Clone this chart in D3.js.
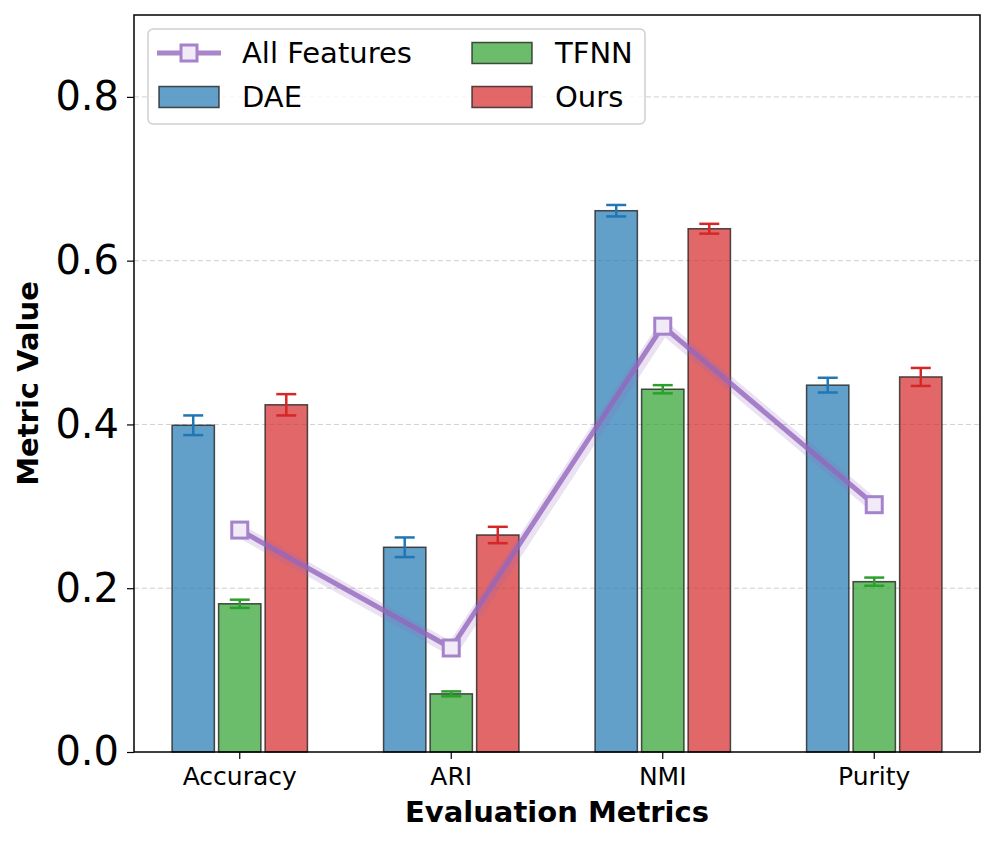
<!DOCTYPE html>
<html>
<head>
  <meta charset="utf-8">
  <title>Evaluation Metrics</title>
  <style type="text/css">
    body { margin: 0; background: #fff; }
    svg text { font-family: "DejaVu Sans", sans-serif; }
  </style>
</head>
<body>
  <svg width="996" height="843"></svg>
  <script src="https://d3js.org/d3.v7.min.js"></script>
  <script>
  // data
  let metrics = ["Accuracy", "ARI", "NMI", "Purity"];
  let methods = ["DAE", "TFNN", "Ours"];
  let daeValues  = [0.399, 0.250, 0.661, 0.448];
  let daeErrors  = [0.012, 0.012, 0.007, 0.009];
  let tfnnValues = [0.181, 0.071, 0.443, 0.208];
  let tfnnErrors = [0.005, 0.003, 0.005, 0.005];
  let oursValues = [0.424, 0.265, 0.639, 0.458];
  let oursErrors = [0.013, 0.010, 0.006, 0.011];
  let allFeatures = [0.271, 0.127, 0.520, 0.302];
  let yTicks = [0.0, 0.2, 0.4, 0.6, 0.8];

  let series = [
    { name: methods[0], values: daeValues,  errors: daeErrors,  color: "#1f77b4" },
    { name: methods[1], values: tfnnValues, errors: tfnnErrors, color: "#2ca02c" },
    { name: methods[2], values: oursValues, errors: oursErrors, color: "#d62728" }
  ];

  let svg = d3.select("svg");
  let plotL = 134, plotR = 980, plotT = 15, plotB = 752;

  let x = d3.scaleBand().domain(metrics).range([plotL, plotR]).padding(0);
  let bw = x.bandwidth();
  let xSub = d3.scaleLinear().domain([-1, 1]).range([-0.22 * bw, 0.22 * bw]);
  let barW = 0.2 * bw;
  let y = d3.scaleLinear().domain([0, 0.9]).range([plotB, plotT]);

  // grid
  svg.append("g")
    .selectAll("line")
    .data(yTicks.slice(1))
    .enter()
    .append("line")
    .attr("x1", plotL).attr("x2", plotR)
    .attr("y1", d => y(d)).attr("y2", d => y(d))
    .attr("stroke", "#b0b0b0")
    .attr("stroke-opacity", 0.6)
    .attr("stroke-width", 1)
    .attr("stroke-dasharray", "5,3");

  // bars
  series.forEach((s, i) => {
    let g = svg.append("g");
    g.selectAll("rect")
      .data(metrics)
      .enter()
      .append("rect")
      .attr("x", (m) => x(m) + bw / 2 + xSub(i - 1) - barW / 2)
      .attr("y", (m, j) => y(s.values[j]))
      .attr("width", barW)
      .attr("height", (m, j) => y(0) - y(s.values[j]))
      .attr("fill", s.color)
      .attr("fill-opacity", 0.7)
      .attr("stroke", "#222")
      .attr("stroke-opacity", 0.8)
      .attr("stroke-width", 1.5);

    // error bars
    metrics.forEach((m, j) => {
      let cx = x(m) + bw / 2 + xSub(i - 1);
      let lo = y(s.values[j] - s.errors[j]), hi = y(s.values[j] + s.errors[j]);
      g.append("line").attr("x1", cx).attr("x2", cx).attr("y1", lo).attr("y2", hi)
        .attr("stroke", s.color).attr("stroke-width", 2.5);
      [lo, hi].forEach(yy => {
        g.append("line").attr("x1", cx - 10).attr("x2", cx + 10).attr("y1", yy).attr("y2", yy)
          .attr("stroke", s.color).attr("stroke-width", 2.5);
      });
    });
  });

  // All Features line
  let line = d3.line()
    .x((d, j) => x(metrics[j]) + bw / 2)
    .y(d => y(d));

  svg.append("path")
    .attr("d", line(allFeatures))
    .attr("fill", "none")
    .attr("stroke", "#9467bd")
    .attr("stroke-opacity", 0.2)
    .attr("stroke-width", 13)
    .attr("stroke-linejoin", "round")
    .attr("transform", "translate(1,1.5)");

  svg.append("path")
    .attr("d", line(allFeatures))
    .attr("fill", "none")
    .attr("stroke", "#9467bd")
    .attr("stroke-opacity", 0.8)
    .attr("stroke-width", 5)
    .attr("stroke-linejoin", "round");

  svg.append("g")
    .selectAll("rect")
    .data(allFeatures)
    .enter()
    .append("rect")
    .attr("x", (d, j) => x(metrics[j]) + bw / 2 - 8)
    .attr("y", d => y(d) - 8)
    .attr("width", 16).attr("height", 16)
    .attr("fill", "#f1ebf8")
    .attr("stroke", "#a583cc")
    .attr("stroke-width", 3);

  // axes
  let yAxis = svg.append("g")
    .attr("transform", "translate(" + plotL + ",0)")
    .call(d3.axisLeft(y).tickValues(yTicks).tickFormat(d3.format(".1f")).tickSize(7).tickPadding(8));
  yAxis.selectAll("text").attr("font-size", 40).attr("fill", "#000");

  let xAxis = svg.append("g")
    .attr("transform", "translate(0," + plotB + ")")
    .call(d3.axisBottom(x).tickSize(7).tickPadding(8));
  xAxis.selectAll("text").attr("font-size", 25).attr("fill", "#000");
  svg.selectAll(".domain").remove();
  svg.selectAll(".tick line").attr("stroke", "#000").attr("stroke-width", 1.2);

  svg.append("rect")
    .attr("x", plotL).attr("y", plotT)
    .attr("width", plotR - plotL).attr("height", plotB - plotT)
    .attr("fill", "none").attr("stroke", "#000").attr("stroke-width", 1.5);

  // axis labels
  svg.append("text")
    .attr("x", (plotL + plotR) / 2).attr("y", 822)
    .attr("text-anchor", "middle")
    .attr("font-size", 29).attr("font-weight", "bold")
    .text("Evaluation Metrics");

  svg.append("text")
    .attr("transform", "translate(38," + ((plotT + plotB) / 2) + ") rotate(-90)")
    .attr("text-anchor", "middle")
    .attr("font-size", 29).attr("font-weight", "bold")
    .text("Metric Value");

  // legend
  let lg = svg.append("g");
  lg.append("rect")
    .attr("x", 148).attr("y", 29).attr("width", 497).attr("height", 95)
    .attr("rx", 5)
    .attr("fill", "#fff").attr("fill-opacity", 0.8)
    .attr("stroke", "#d0d0d0").attr("stroke-width", 1.5);

  lg.append("line").attr("x1", 157).attr("x2", 221).attr("y1", 53).attr("y2", 53)
    .attr("stroke", "#9467bd").attr("stroke-opacity", 0.8).attr("stroke-width", 5);
  lg.append("rect").attr("x", 181).attr("y", 45).attr("width", 16).attr("height", 16)
    .attr("fill", "#f1ebf8").attr("stroke", "#a583cc").attr("stroke-width", 3);
  lg.append("text").attr("x", 242).attr("y", 53).attr("dy", "0.35em")
    .attr("font-size", 29).text("All Features");

  let legendItems = [
    { s: series[0], px: 159, py: 97 },
    { s: series[1], px: 472, py: 53 },
    { s: series[2], px: 472, py: 97 }
  ];
  legendItems.forEach(it => {
    lg.append("rect").attr("x", it.px).attr("y", it.py - 10.5).attr("width", 60).attr("height", 21)
      .attr("fill", it.s.color).attr("fill-opacity", 0.7)
      .attr("stroke", "#222").attr("stroke-opacity", 0.8).attr("stroke-width", 1.5);
    lg.append("text").attr("x", it.px === 159 ? 242 : 555).attr("y", it.py).attr("dy", "0.35em")
      .attr("font-size", 29).text(it.s.name);
  });
  </script>
</body>
</html>
